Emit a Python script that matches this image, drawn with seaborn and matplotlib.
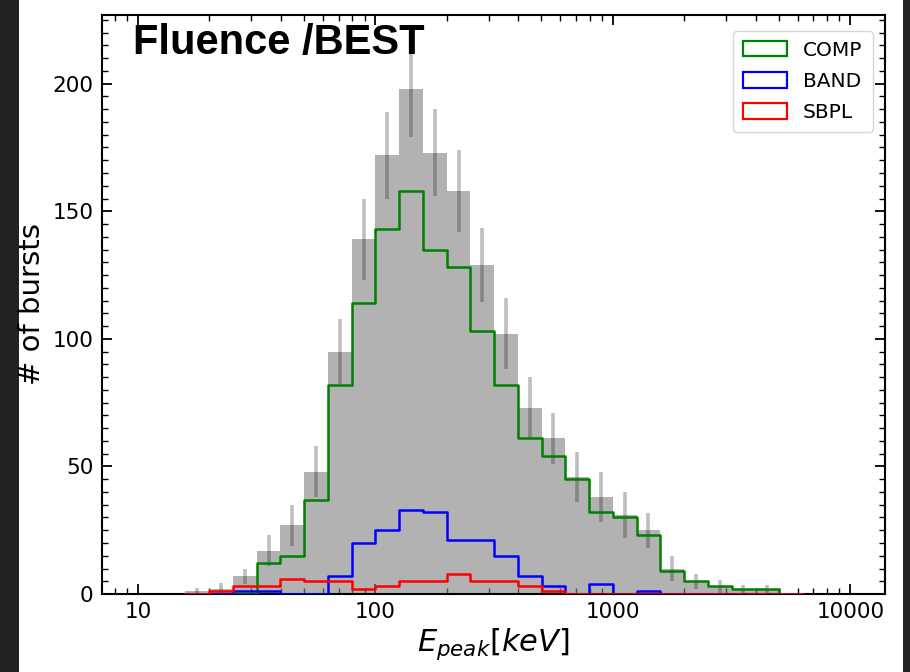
import numpy as np
import pandas as pd
import matplotlib
matplotlib.use("Agg")
import matplotlib.pyplot as plt
import seaborn as sns
from matplotlib.patches import Patch, Rectangle
from matplotlib.ticker import FixedLocator, FixedFormatter, MultipleLocator, LogLocator, NullFormatter

# ---- data: log10(E_peak/keV) bin edges (0.1 dex) and counts per bin ----
log_edges = [1.2, 1.3, 1.4, 1.5, 1.6, 1.7, 1.8, 1.9, 2.0, 2.1, 2.2, 2.3, 2.4,
             2.5, 2.6, 2.7, 2.8, 2.9, 3.0, 3.1, 3.2, 3.3, 3.4, 3.5, 3.6, 3.7, 3.8]
total = [1, 2, 7, 17, 27, 48, 95, 139, 172, 198, 173, 158, 129,
         102, 73, 61, 46, 38, 31, 25, 10, 5, 3, 2, 2, 0]
total_err = [1.2, 2.4, 3, 6, 8, 10, 12.7, 16, 17, 19, 17, 16, 14.6,
             14, 12, 10, 9.8, 9.9, 9, 6.8, 5, 3, 2.7, 1.7, 1.7, 0]
comp = [0, 0, 0, 12, 15, 37, 82, 114, 143, 158, 135, 128, 103,
        82, 61, 54, 45, 32, 30, 23, 9, 5, 3, 2, 2, 0]
band = [0, 0, 1, 1, 0, 0, 7, 20, 25, 33, 32, 21, 21,
        15, 7, 3, 0, 4, 0, 1, 0, 0, 0, 0, 0, 0]
sbpl = [0, 1, 3, 3, 6, 5, 5, 2, 3, 5, 5, 8, 5,
        5, 3, 1, 0, 0, 0, 0, 0, 0, 0, 0, 0, 0]
models = ["COMP", "BAND", "SBPL"]
model_colors = ["green", "blue", "red"]
x_ticks = [10, 100, 1000, 10000]
x_ticklabels = ["10", "100", "1000", "10000"]
y_ticks = [0, 50, 100, 150, 200]

edges = np.array(log_edges)
centers = 10 ** ((edges[:-1] + edges[1:]) / 2)
df = pd.DataFrame({"epeak": centers, "total": total, "err": total_err,
                   "COMP": comp, "BAND": band, "SBPL": sbpl})

sns.set_style("ticks")
plt.rcParams["font.family"] = ["DejaVu Sans"]
plt.rcParams["mathtext.fontset"] = "dejavusans"
plt.rcParams["text.color"] = "black"
plt.rcParams["axes.labelcolor"] = "black"

fig = plt.figure(figsize=(9.1, 6.72), dpi=100)
fig.patch.set_facecolor("white")
ax = fig.add_axes([0.112, 0.116, 0.8605, 0.862])

# total distribution (grey bars)
sns.histplot(data=df, x="epeak", weights="total", bins=list(log_edges), log_scale=True,
             element="bars", fill=True, color="gray", alpha=0.6, linewidth=0,
             ax=ax, zorder=1)
ax.errorbar(df["epeak"], df["total"], yerr=df["err"], fmt="none",
            ecolor="black", alpha=0.25, elinewidth=2.6, capsize=0, zorder=2)

# per-model step outlines
for m, c in zip(models, model_colors):
    sns.histplot(data=df, x="epeak", weights=m, bins=list(log_edges), log_scale=True,
                 element="step", fill=False, color=c, linewidth=1.8,
                 ax=ax, zorder=3)

ax.set_xscale("log")
ax.set_xlim(7.05, 14000)
ax.set_ylim(0, 227)
ax.xaxis.set_major_locator(FixedLocator(x_ticks))
ax.xaxis.set_major_formatter(FixedFormatter(x_ticklabels))
ax.xaxis.set_minor_locator(LogLocator(base=10, subs=np.arange(2, 10)))
ax.xaxis.set_minor_formatter(NullFormatter())
ax.yaxis.set_major_locator(FixedLocator(y_ticks))
ax.yaxis.set_minor_locator(MultipleLocator(5))

ax.tick_params(which="both", direction="in", top=True, right=True,
               labelsize=15.5, colors="black", pad=6)
ax.tick_params(which="major", length=7, width=1.3)
ax.tick_params(which="minor", length=4, width=1.0)
for s in ax.spines.values():
    s.set_linewidth(1.5)
    s.set_color("black")

ax.set_xlabel(r"$E_{peak}[keV]$", fontsize=22, labelpad=3)
ax.set_ylabel("# of bursts", fontsize=21, labelpad=5)

ax.text(0.04, 0.985, "Fluence /BEST", transform=ax.transAxes,
        fontsize=30, fontweight="bold", family="Liberation Sans", color="black",
        ha="left", va="top", zorder=5)

handles = [Patch(facecolor="none", edgecolor=c, linewidth=1.6, label=m)
           for m, c in zip(models, model_colors)]
leg = ax.legend(handles=handles, loc="upper right", fontsize=14.5,
                frameon=True, fancybox=True, handlelength=2.2,
                handleheight=0.8, borderpad=0.5, labelspacing=0.6,
                bbox_to_anchor=(0.997, 0.99))
leg.get_frame().set_edgecolor("#cccccc")
leg.get_frame().set_linewidth(1.0)

# dark side margins of the original screenshot
fig.patches.append(Rectangle((0, 0), 19 / 910, 1, transform=fig.transFigure,
                             facecolor="#222222", edgecolor="none", zorder=-1))
fig.patches.append(Rectangle((1 - 7 / 910, 0), 7 / 910, 1, transform=fig.transFigure,
                             facecolor="#222222", edgecolor="none", zorder=-1))

fig.savefig("out.png", dpi=100)
